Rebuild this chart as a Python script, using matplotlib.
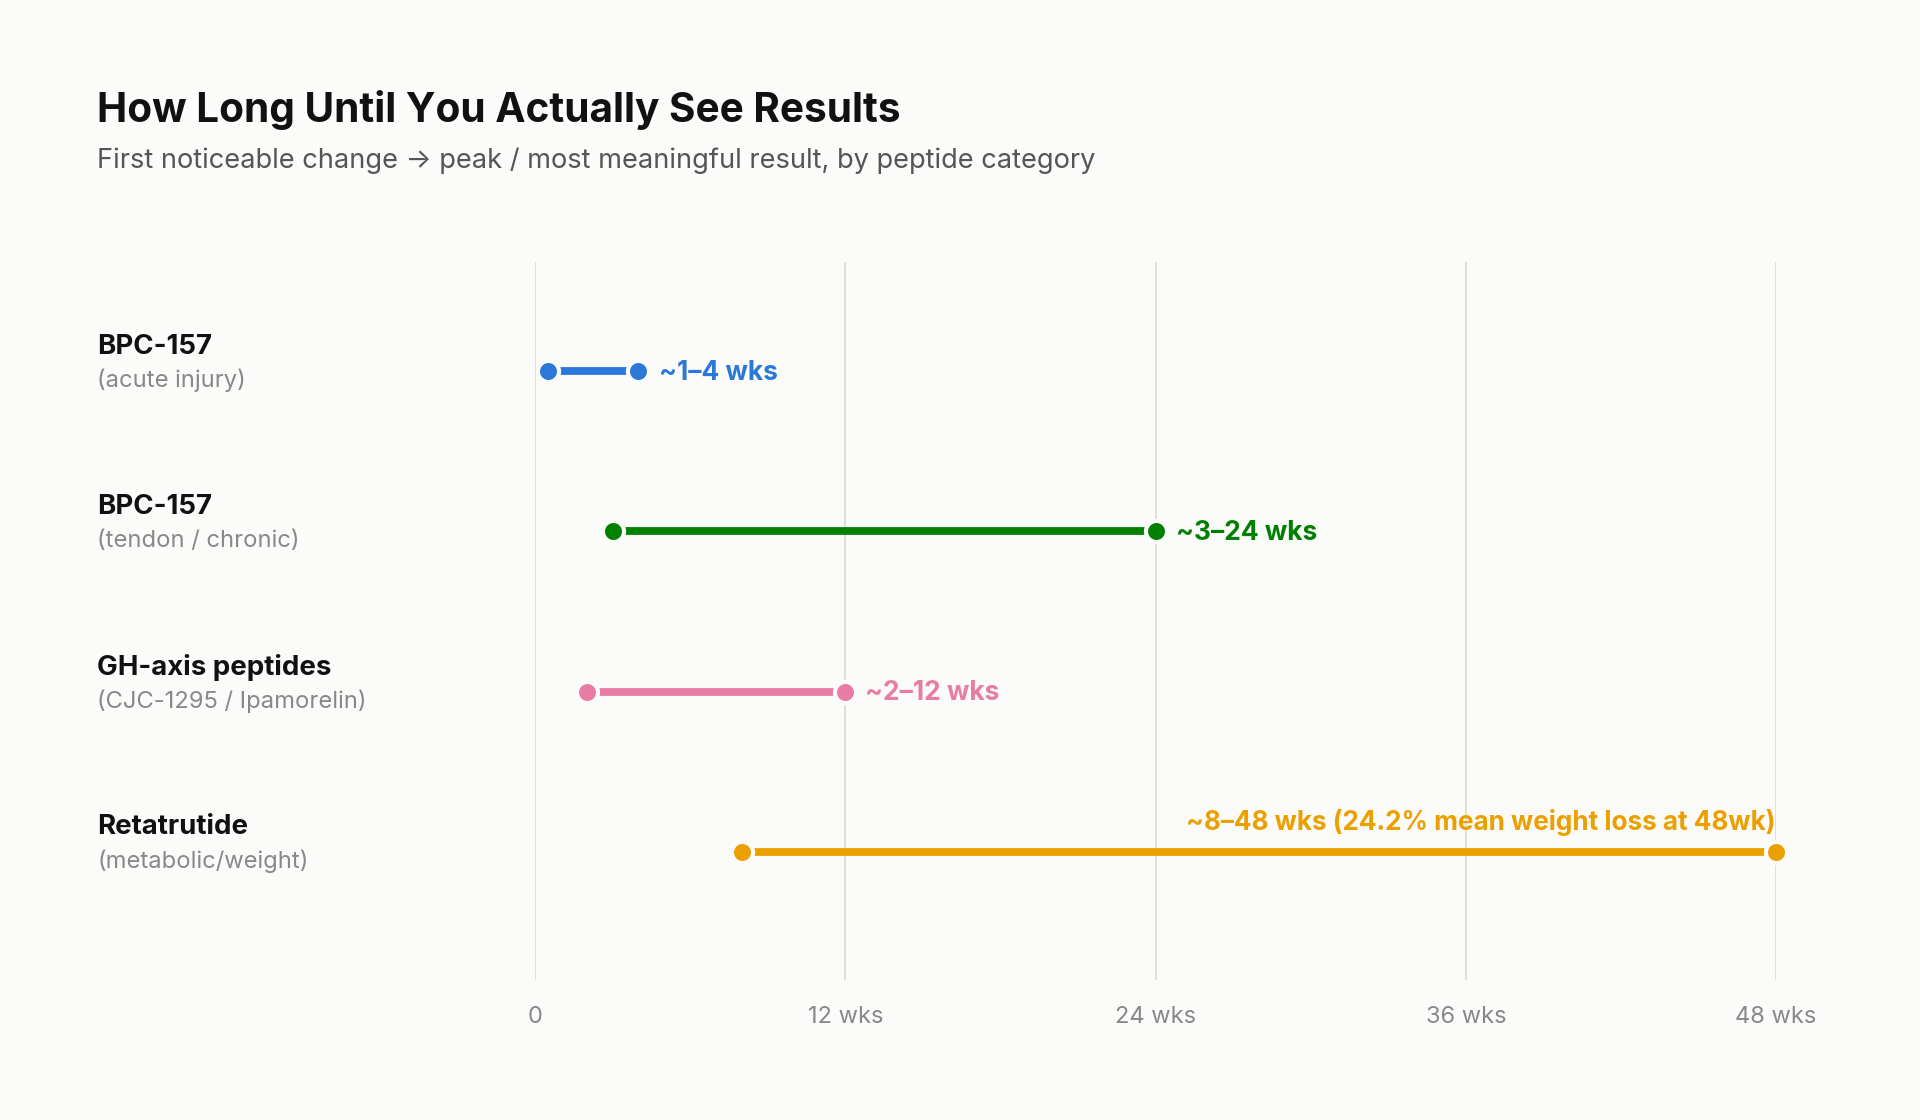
import matplotlib
matplotlib.use("Agg")
import matplotlib.pyplot as plt
import matplotlib.transforms as mtransforms

plt.rcParams['font.family'] = ['Inter', 'DejaVu Sans']

# ---- data ----
names = ["BPC-157", "BPC-157", "GH-axis peptides", "Retatrutide"]
subnames = ["(acute injury)", "(tendon / chronic)", "(CJC-1295 / Ipamorelin)", "(metabolic/weight)"]
starts = [0.5, 3, 2, 8]
ends = [4, 24, 12, 48]
range_labels = ["~1\u20134 wks", "~3\u201324 wks", "~2\u201312 wks",
                "~8\u201348 wks (24.2% mean weight loss at 48wk)"]
colors = ["#2B78D8", "#008000", "#E87CA5", "#EBA000"]
tick_vals = [0, 12, 24, 36, 48]
tick_labels = ["0", "12 wks", "24 wks", "36 wks", "48 wks"]

BG = "#FBFBF9"
W, H = 1920, 1120
fig = plt.figure(figsize=(W / 100, H / 100), dpi=100, facecolor=BG)

x0, x1 = 535, 1776
ytop, ybot = 262, 980
ax = fig.add_axes([x0 / W, 1 - ybot / H, (x1 - x0) / W, (ybot - ytop) / H])
ax.set_facecolor(BG)
ax.set_xlim(0, 48)
row_px = 160.3
ax.set_ylim(3 + (ybot - 852) / row_px, -(371 - ytop) / row_px)
for s in ax.spines.values():
    s.set_visible(False)
ax.set_yticks([])
ax.set_xticks(tick_vals, tick_labels)
ax.tick_params(axis='x', length=0, pad=19, labelsize=17, labelcolor="#888888")

for t in tick_vals:
    ax.axvline(t, color="#DCDCD6", lw=1.3, zorder=0)

for i, (s, e, c) in enumerate(zip(starts, ends, colors)):
    ax.plot([s, e], [i, i], color=c, lw=5.6, solid_capstyle='butt', zorder=2, clip_on=False)
    ax.plot([s, e], [i, i], ls='none', marker='o', ms=15.2, mfc=c, mec=BG, mew=3.0,
            zorder=3, clip_on=False)
    if i == 3:
        ax.annotate(range_labels[i], xy=(e, i), xytext=(0, 21.5), textcoords='offset points',
                    ha='right', va='center', fontsize=18.8, fontweight='bold', color=c)
    else:
        ax.annotate(range_labels[i], xy=(e, i), xytext=(14.5, -1.3), textcoords='offset points',
                    ha='left', va='center', fontsize=19, fontweight='bold', color=c)

trans = mtransforms.blended_transform_factory(fig.transFigure, ax.transData)
for i, (n, sn) in enumerate(zip(names, subnames)):
    ax.text(97 / W, i - 24.5 / row_px, n, transform=trans, ha='left', va='center',
            fontsize=19.9, fontweight='bold', color="#111111")
    ax.text(97 / W, i + 9.5 / row_px, sn, transform=trans, ha='left', va='center',
            fontsize=17.1, color="#888888")

fig.text(97 / W, 1 - 110 / H, "How Long Until You Actually See Results", ha='left', va='center',
         fontsize=29.2, fontweight='bold', color="#111111")
fig.text(97 / W, 1 - 160.5 / H,
         "First noticeable change \u2192 peak / most meaningful result, by peptide category",
         ha='left', va='center', fontsize=19.6, color="#555555")

fig.savefig("out.png", dpi=100, facecolor=BG)
